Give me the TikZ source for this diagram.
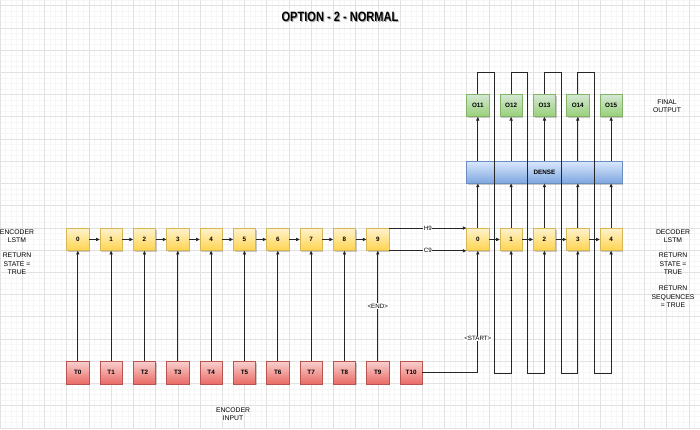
\documentclass[tikz,border=0pt]{standalone}
\usepackage{fontspec}
\setmainfont{Liberation Sans}
\usetikzlibrary{arrows.meta,calc,shadows}
\definecolor{ytop}{HTML}{FFF2CC}\definecolor{ybot}{HTML}{FFD44F}\definecolor{ystr}{HTML}{D6B656}
\definecolor{rtop}{HTML}{F8CECC}\definecolor{rbot}{HTML}{EA6B66}\definecolor{rstr}{HTML}{B85450}
\definecolor{gtop}{HTML}{D5E8D4}\definecolor{gbot}{HTML}{97D077}\definecolor{gstr}{HTML}{82B366}
\definecolor{btop}{HTML}{DAE8FC}\definecolor{bbot}{HTML}{7EA6E0}\definecolor{bstr}{HTML}{6C8EBF}
\definecolor{gridmaj}{HTML}{E2E2E2}\definecolor{gridmin}{HTML}{F6F6F6}
\begin{document}
\begin{tikzpicture}[x=1pt,y=-1pt,
  box/.style={minimum width=22.22pt,minimum height=22.22pt,inner sep=0pt,line width=0.5pt,
    font=\fontsize{6.3}{7}\selectfont\bfseries,
    drop shadow={shadow xshift=1.2pt,shadow yshift=-1.2pt,opacity=0.35,fill=black!60}},
  ybox/.style={box,draw=ystr,top color=ytop,bottom color=ybot},
  rbox/.style={box,draw=rstr,top color=rtop,bottom color=rbot},
  gbox/.style={box,draw=gstr,top color=gtop,bottom color=gbot},
  bbox/.style={box,draw=bstr,top color=btop,bottom color=bbot},
  arr/.style={draw=black!85,line width=0.7pt,-{Triangle[length=3.6pt,width=3.2pt]}},
  lbl/.style={fill=white,inner sep=0.6pt,font=\fontsize{6.2}{7}\selectfont},
  side/.style={align=center,font=\fontsize{6.8}{8.4}\selectfont}]
\useasboundingbox (0,0) rectangle (700,429);
\fill[white] (0,0) rectangle (700,429);
% grid
\foreach \i in {0,...,126} \draw[gridmin,line width=0.4pt] ({\i*5.5556},0) -- ({\i*5.5556},429);
\foreach \j in {0,...,77} \draw[gridmin,line width=0.4pt] (0,{\j*5.5556}) -- (700,{\j*5.5556});
\foreach \i in {0,...,31} \draw[gridmaj,line width=0.5pt] ({\i*22.2222},0) -- ({\i*22.2222},429);
\foreach \j in {0,...,19} \draw[gridmaj,line width=0.5pt] (0,{5.5556+\j*22.2222}) -- (700,{5.5556+\j*22.2222});
% title
\node[text=black!35,font=\fontsize{13.5}{15}\selectfont\bfseries,xscale=0.82] at (341,18) {OPTION - 2 - NORMAL};
\node[text=black,font=\fontsize{13.5}{15}\selectfont\bfseries,xscale=0.82] (title) at (340,17) {OPTION - 2 - NORMAL};
% nodes
\foreach \k in {0,...,9} \node[ybox] (e\k) at ({77.78+33.333*\k},239.44) {\k};
\foreach \k in {0,...,10} \node[rbox] (t\k) at ({77.78+33.333*\k},372.78) {T\k};
\foreach \k in {0,...,4} \node[ybox] (d\k) at ({477.78+33.333*\k},239.44) {\k};
\node[bbox,minimum width=155.56pt] (dense) at (544.44,172.22) {DENSE};
\foreach \k in {0,...,4} {\pgfmathtruncatemacro{\n}{\k+11}
  \node[gbox] (o\k) at ({477.78+33.333*\k},105.56) {O\n};}
% side labels
\node[side] (encl) at (17,236) {ENCODER\\LSTM};
\node[side] (encr) at (17,264) {RETURN\\STATE =\\TRUE};
\node[side] (decl) at (673,236) {DECODER\\LSTM};
\node[side] (decr) at (673,264) {RETURN\\STATE =\\TRUE};
\node[side] (decs) at (673,297) {RETURN\\SEQUENCES\\= TRUE};
\node[side] (fin) at (667,106) {FINAL\\OUTPUT};
\node[side] (encin) at (233,414) {ENCODER\\INPUT};
% encoder chain
\foreach \k in {0,...,8} {\pgfmathtruncatemacro{\n}{\k+1}
  \draw[arr] (e\k) -- (e\n);
  \draw[arr] (t\k) -- (e\k);}
\draw[arr] (t9) -- node[lbl] {<END>} (e9);
\draw[arr] (e9.north east) -- node[lbl] {H9} (d0.north west);
\draw[arr] (e9.south east) -- node[lbl] {C9} (d0.south west);
\draw[arr] (t10.east) -| node[lbl,pos=0.64] {<START>} (d0.south);
% decoder
\foreach \k in {0,...,3} {\pgfmathtruncatemacro{\n}{\k+1}
  \draw[arr] (d\k) -- (d\n);}
\foreach \k in {0,...,4} {
  \draw[arr] (d\k.north) -- (d\k.north |- dense.south);
  \draw[arr] (o\k.south |- dense.north) -- (o\k.south);}
% feedback loops
\foreach \k in {0,...,3} {\pgfmathtruncatemacro{\n}{\k+1}
  \draw[arr] (o\k.north) -- ++(0,-22.22) -- ++(16.67,0) |- ($(d\n.south)+(0,122.22)$) -- (d\n.south);}
\end{tikzpicture}
\end{document}
